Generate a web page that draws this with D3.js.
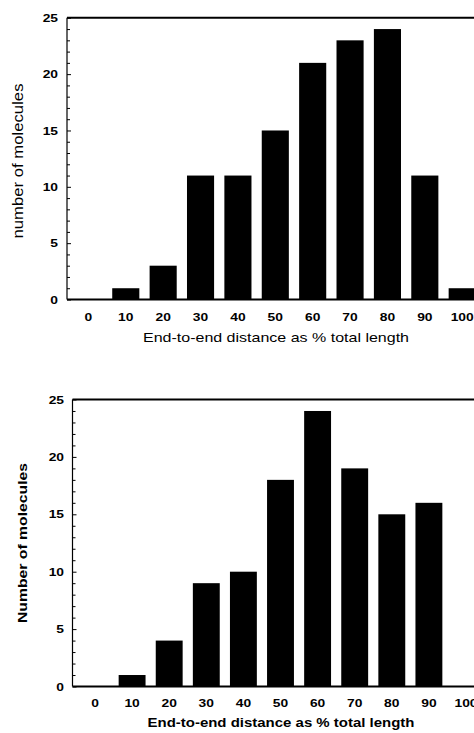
<!DOCTYPE html>
<html><head><meta charset="utf-8">
<script src="https://cdn.jsdelivr.net/npm/d3@7"></script>
<style>
html,body{margin:0;padding:0;background:#fff;}
svg{display:block;}
text{font-family:"Liberation Sans",Arial,sans-serif;fill:#000;}
</style></head><body>
<svg id="c" width="474" height="733"></svg>
<script>
const categories = [0,10,20,30,40,50,60,70,80,90,100];
const seriesTop = [0,1,3,11,11,15,21,23,24,11,1];
const seriesBottom = [0,1,4,9,10,18,24,19,15,16,0];
const yTicks = [0,5,10,15,20,25];
const xTickLabels = ["0","10","20","30","40","50","60","70","80","90","100"];
const xTitle = "End-to-end distance as % total length";
const yTitleTop = "number of molecules";
const yTitleBottom = "Number of molecules";

const svg = d3.select("#c");

function widen(sel, f){
  sel.each(function(){
    const w = this.getComputedTextLength();
    d3.select(this).attr("textLength", w*f).attr("lengthAdjust","spacingAndGlyphs");
  });
}

function panel(cfg){
  const g = svg.append("g");
  const x = d3.scaleLinear().domain([0,100]).range([cfg.x0, cfg.x100]);
  const y = d3.scaleLinear().domain([0,25]).range([cfg.yBase, cfg.yTop]);
  const bw = x(7.25) - x(0);
  g.selectAll("rect.bar").data(cfg.values).enter().append("rect")
    .attr("x",(d,i)=>x(categories[i]) - bw/2)
    .attr("y",d=>y(d))
    .attr("width",bw)
    .attr("height",d=>y(0)-y(d))
    .attr("fill","#000");
  g.append("line").attr("x1",cfg.left).attr("x2",474).attr("y1",y(25)).attr("y2",y(25))
    .attr("stroke","#000").attr("stroke-width",2);
  g.append("line").attr("x1",cfg.left).attr("x2",474).attr("y1",y(0)).attr("y2",y(0))
    .attr("stroke","#000").attr("stroke-width",2);
  g.append("line").attr("x1",cfg.left).attr("x2",cfg.left).attr("y1",y(25)).attr("y2",y(0))
    .attr("stroke","#000").attr("stroke-width",1.2);
  const minors = d3.range(0,26);
  g.selectAll("line.mt").data(minors).enter().append("line")
    .attr("x1",cfg.left).attr("x2",d=> d%5===0 ? cfg.left+4 : cfg.left+3)
    .attr("y1",d=>y(d)+0.5).attr("y2",d=>y(d)+0.5)
    .attr("stroke","#000").attr("stroke-width",1);
  const yt = g.selectAll("text.yt").data(yTicks).enter().append("text")
    .attr("x",cfg.labelRight).attr("y",d=>y(d)).attr("dy","0.36em")
    .attr("text-anchor","end").attr("font-size",11.5).attr("font-weight","bold")
    .text(d=>d);
  widen(yt, 1.2);
  const xt = g.selectAll("text.xt").data(categories).enter().append("text")
    .attr("x",d=>x(d)).attr("y",cfg.xLabY).attr("dy","0.36em")
    .attr("text-anchor","middle").attr("font-size",11.5).attr("font-weight","bold")
    .text((d,i)=>xTickLabels[i]);
  widen(xt, 1.2);
  g.append("text").attr("x",cfg.titleX).attr("y",cfg.titleY).attr("dy","0.36em")
    .attr("text-anchor","middle").attr("font-size",cfg.titleSize).attr("font-weight",cfg.titleWeight)
    .attr("textLength",cfg.titleLen).attr("lengthAdjust","spacingAndGlyphs")
    .text(xTitle);
  g.append("text").attr("transform",`translate(${cfg.yTitleX},${cfg.yTitleY}) rotate(-90)`)
    .attr("dy","0.36em").attr("text-anchor","middle")
    .attr("font-size",cfg.yTitleSize).attr("font-weight",cfg.titleWeight)
    .attr("textLength",cfg.yTitleLen).attr("lengthAdjust","spacingAndGlyphs")
    .text(cfg.yTitle);
}

panel({values:seriesTop, x0:88.4, x100:462.2, yBase:299.5, yTop:17.8, left:67,
  labelRight:58, xLabY:316.5, titleX:276, titleY:337.5, titleSize:13.5, titleWeight:"normal", titleLen:266,
  yTitleX:18, yTitleY:161, yTitleSize:14, yTitleLen:155, yTitle:yTitleTop});
panel({values:seriesBottom, x0:95, x100:466, yBase:686.5, yTop:399.5, left:72.5,
  labelRight:64, xLabY:703, titleX:281, titleY:722, titleSize:13.5, titleWeight:"bold", titleLen:267,
  yTitleX:22.5, yTitleY:543, yTitleSize:13.5, yTitleLen:160, yTitle:yTitleBottom});
</script>
</body></html>
